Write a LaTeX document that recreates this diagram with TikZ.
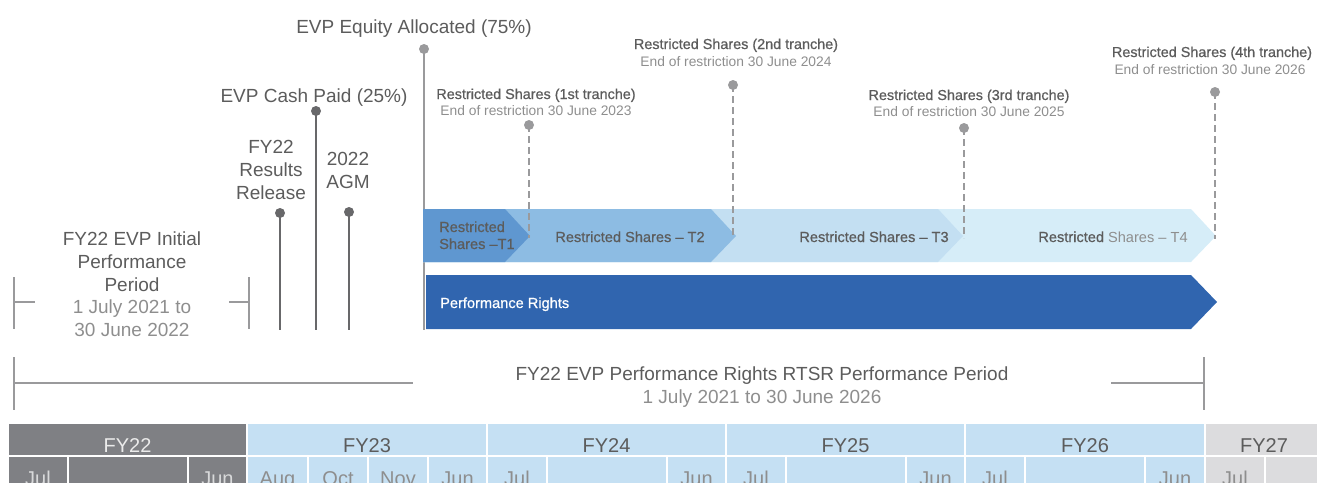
\documentclass[tikz,border=0pt]{standalone}
\usepackage{fontspec}
\setmainfont{Liberation Sans}
\newfontfamily\medfont[FakeBold=0.7]{Liberation Sans}
\definecolor{txt}{HTML}{5C5C5C}
\definecolor{lighttxt}{HTML}{8E8E8E}
\definecolor{darkline}{HTML}{68686A}
\definecolor{lightline}{HTML}{9A9A9C}
\definecolor{tone}{HTML}{5F97D0}
\definecolor{ttwo}{HTML}{8DBCE3}
\definecolor{tthree}{HTML}{C3DFF2}
\definecolor{tfour}{HTML}{D6EDF8}
\definecolor{prblue}{HTML}{3065AF}
\definecolor{fygray}{HTML}{7F8084}
\definecolor{fyblue}{HTML}{C5E0F3}
\definecolor{fylight}{HTML}{DCDCDE}
\tikzset{
  lbl/.style={font=\fontsize{19}{23}\selectfont, text=txt, inner sep=0pt, anchor=base},
  lblsub/.style={font=\fontsize{19}{23}\selectfont, text=lighttxt, inner sep=0pt, anchor=base},
  trtitle/.style={font=\medfont\fontsize{14.4}{17}\selectfont, text=txt, inner sep=0pt, anchor=base},
  trsub/.style={font=\fontsize{13.8}{16}\selectfont, text=lighttxt, inner sep=0pt, anchor=base},
  bandlbl/.style={font=\medfont\fontsize{14.6}{17}\selectfont, text=txt, inner sep=0pt, anchor=base},
  dotdark/.style={circle, fill=darkline, inner sep=0pt, minimum size=10pt},
  dotlight/.style={circle, fill=lightline, inner sep=0pt, minimum size=10pt},
  pindark/.style={draw=darkline, line width=2.6pt},
  pinlight/.style={draw=lightline, line width=2.6pt},
  pindash/.style={draw=lightline, line width=2.4pt, dash pattern=on 7pt off 4pt},
  brack/.style={draw=lightline, line width=2.8pt},
  fyl/.style={font=\fontsize{20}{24}\selectfont, text=txt, inner sep=0pt, anchor=base},
  mol/.style={font=\fontsize{20}{24}\selectfont, text=lighttxt, inner sep=0pt, anchor=base},
}
\begin{document}
\begin{tikzpicture}[x=1pt,y=-1pt]
\useasboundingbox (0,0) rectangle (1317,482);
\clip (0,0) rectangle (1317,482);

% ---------- top labels ----------
\node[lbl] (eqlbl) at (414,33) {EVP Equity Allocated (75\%)};
\node[lbl] (cashlbl) at (314,102) {EVP Cash Paid (25\%)};
\node[lbl] (resA) at (271,153) {FY22};
\node[lbl] (resB) at (271,176) {Results};
\node[lbl] (resC) at (271,199) {Release};
\node[lbl] (agmA) at (348,165) {2022};
\node[lbl] (agmB) at (348,188) {AGM};

\node[lbl] (ippA) at (132,245) {FY22 EVP Initial};
\node[lbl] (ippB) at (132,268) {Performance};
\node[lbl] (ippC) at (132,291) {Period};
\node[lblsub] (ippD) at (132,313) {1 July 2021 to};
\node[lblsub] (ippE) at (132,336) {30 June 2022};

% ---------- pins ----------
\node[dotlight] (eqdot) at (424,49) {};
\coordinate (eqend) at (424,330);
\draw[pinlight] (eqdot.center) -- (eqend);

\node[dotdark] (cashdot) at (316,111) {};
\coordinate (cashend) at (316,330);
\draw[pindark] (cashdot.center) -- (cashend);

\node[dotdark] (resdot) at (280,213) {};
\coordinate (resend) at (280,330);
\draw[pindark] (resdot.center) -- (resend);

\node[dotdark] (agmdot) at (349,212) {};
\coordinate (agmend) at (349,330);
\draw[pindark] (agmdot.center) -- (agmend);

% ---------- initial period bracket ----------
\coordinate (ibl1) at (14,277); \coordinate (ibl2) at (14,329);
\coordinate (ibl3) at (14,302); \coordinate (ibl4) at (35,302);
\coordinate (ibr1) at (249,277); \coordinate (ibr2) at (249,329);
\coordinate (ibr3) at (249,302); \coordinate (ibr4) at (229,302);
\draw[brack] (ibl1) -- (ibl2);
\draw[brack] (ibl3) -- (ibl4);
\draw[brack] (ibr1) -- (ibr2);
\draw[brack] (ibr3) -- (ibr4);

% ---------- restricted share bands ----------
\fill[tfour] (423,209) -- (1191,209) -- (1216,236) -- (1191,262) -- (423,262) -- cycle;
\fill[tthree] (423,209) -- (938,209) -- (963,236) -- (938,262) -- (423,262) -- cycle;
\fill[ttwo] (423,209) -- (711,209) -- (736,236) -- (711,262) -- (423,262) -- cycle;
\fill[tone] (423,209) -- (505,209) -- (530,236) -- (505,262) -- (423,262) -- cycle;

\node[bandlbl, anchor=base west] (t1a) at (439,232) {Restricted};
\node[bandlbl, anchor=base west] (t1b) at (439,249) {Shares –T1};
\node[bandlbl] (t2) at (630,242) {Restricted Shares – T2};
\node[bandlbl] (t3) at (874,242) {Restricted Shares – T3};
\node[bandlbl] (t4) at (1113,242) {Restricted \normalfont\fontsize{14.6}{17}\selectfont\textcolor{lighttxt}{Shares – T4}};

% ---------- performance rights ----------
\fill[prblue] (426,275) -- (1191,275) -- (1217,302) -- (1191,329) -- (426,329) -- cycle;
\node[font=\medfont\fontsize{14.6}{17}\selectfont, text=white, inner sep=0pt, anchor=base west] (pr) at (440,308) {Performance Rights};

% ---------- tranche labels and dashed pins ----------
\node[trtitle] (r1t) at (536,99) {Restricted Shares (1st tranche)};
\node[trsub] (r1s) at (536,115) {End of restriction 30 June 2023};
\node[dotlight] (r1dot) at (529,125) {};
\coordinate (r1end) at (529,238);
\draw[pindash] (r1dot.center) -- (r1end);

\node[trtitle] (r2t) at (736,49) {Restricted Shares (2nd tranche)};
\node[trsub] (r2s) at (736,66) {End of restriction 30 June 2024};
\node[dotlight] (r2dot) at (733,85) {};
\coordinate (r2end) at (733,237);
\draw[pindash] (r2dot.center) -- (r2end);

\node[trtitle] (r3t) at (969,100) {Restricted Shares (3rd tranche)};
\node[trsub] (r3s) at (969,116) {End of restriction 30 June 2025};
\node[dotlight] (r3dot) at (964,128) {};
\coordinate (r3end) at (964,238);
\draw[pindash] (r3dot.center) -- (r3end);

\node[trtitle] (r4t) at (1212,57) {Restricted Shares (4th tranche)};
\node[trsub] (r4s) at (1210,74) {End of restriction 30 June 2026};
\node[dotlight] (r4dot) at (1215,92) {};
\coordinate (r4end) at (1215,239);
\draw[pindash] (r4dot.center) -- (r4end);

% ---------- RTSR period bracket ----------
\coordinate (bbl1) at (14,357); \coordinate (bbl2) at (14,410);
\coordinate (bbl3) at (14,383); \coordinate (bbl4) at (413,383);
\coordinate (bbr1) at (1204,357); \coordinate (bbr2) at (1204,410);
\coordinate (bbr3) at (1204,383); \coordinate (bbr4) at (1111,383);
\draw[brack] (bbl1) -- (bbl2);
\draw[brack] (bbl3) -- (bbl4);
\draw[brack] (bbr1) -- (bbr2);
\draw[brack] (bbr3) -- (bbr4);
\node[lbl] (rtsr) at (762,380) {FY22 EVP Performance Rights RTSR Performance Period};
\node[lblsub] (rtsrsub) at (762,403) {1 July 2021 to 30 June 2026};

% ---------- fiscal year table ----------
\fill[fygray] (9,424) rectangle (246,455);
\fill[fyblue] (248,424) rectangle (486,455);
\fill[fyblue] (488,424) rectangle (725,455);
\fill[fyblue] (727,424) rectangle (964,455);
\fill[fyblue] (966,424) rectangle (1204,455);
\fill[fylight] (1206,424) rectangle (1317,455);
\node[fyl, text=white!92!black] (fy22) at (127.5,452) {FY22};
\node[fyl] (fy23) at (367,452) {FY23};
\node[fyl] (fy24) at (606.5,452) {FY24};
\node[fyl] (fy25) at (845.5,452) {FY25};
\node[fyl] (fy26) at (1085,452) {FY26};
\node[fyl] (fy27) at (1264,452) {FY27};

% month row
\fill[fygray] (9,457) rectangle (67,490);
\fill[fygray] (69,457) rectangle (187,490);
\fill[fygray] (189,457) rectangle (246,490);
\fill[fyblue] (248,457) rectangle (307,490);
\fill[fyblue] (309,457) rectangle (367,490);
\fill[fyblue] (369,457) rectangle (427,490);
\fill[fyblue] (429,457) rectangle (486,490);
\fill[fyblue] (488,457) rectangle (546,490);
\fill[fyblue] (548,457) rectangle (666,490);
\fill[fyblue] (668,457) rectangle (725,490);
\fill[fyblue] (727,457) rectangle (785,490);
\fill[fyblue] (787,457) rectangle (905,490);
\fill[fyblue] (907,457) rectangle (964,490);
\fill[fyblue] (966,457) rectangle (1024,490);
\fill[fyblue] (1026,457) rectangle (1144,490);
\fill[fyblue] (1146,457) rectangle (1204,490);
\fill[fylight] (1206,457) rectangle (1264,490);
\fill[fylight] (1266,457) rectangle (1317,490);

\node[mol, text=white!70!fygray] (m1) at (38,485) {Jul};
\node[mol, text=white!70!fygray] (m2) at (217.5,485) {Jun};
\node[mol] (m3) at (277.5,485) {Aug};
\node[mol] (m4) at (338,485) {Oct};
\node[mol] (m5) at (398,485) {Nov};
\node[mol] (m6) at (457.5,485) {Jun};
\node[mol] (m7) at (517,485) {Jul};
\node[mol] (m8) at (696.5,485) {Jun};
\node[mol] (m9) at (756,485) {Jul};
\node[mol] (m10) at (935.5,485) {Jun};
\node[mol] (m11) at (995,485) {Jul};
\node[mol] (m12) at (1175,485) {Jun};
\node[mol] (m13) at (1235,485) {Jul};
\end{tikzpicture}
\end{document}
